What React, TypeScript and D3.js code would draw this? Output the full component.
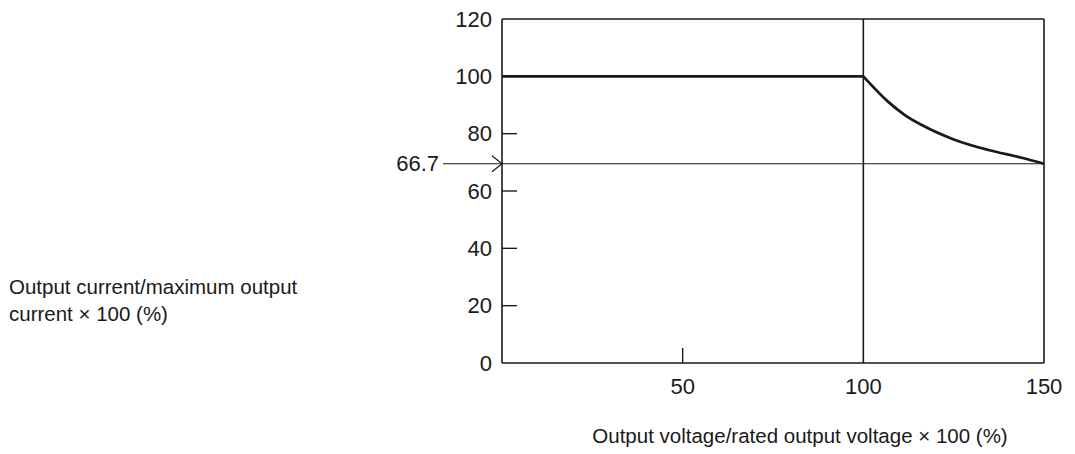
import React from "react";
import * as d3 from "d3";

// Output voltage (% of rated) vs. output current (% of max)
const flatX = [0, 100];
const flatY = [100, 100];
const dropX = [100, 106.9, 111.5, 116.2, 125.4, 134.6, 143.8, 150];
const dropY = [100, 91.1, 86.5, 83.0, 77.8, 74.3, 71.6, 69.5];

const yTicks = [0, 20, 40, 60, 80, 100, 120];
const xTicks = [50, 100, 150];
const refLevel = 69.5; // drawn position of the 66.7 line
const refLabel = "66.7";

const xTitle = "Output voltage/rated output voltage \u00d7 100 (%)";
const yTitle = ["Output current/maximum output", "current \u00d7 100 (%)"];

const W = 1075;
const H = 454;
const FONT = "'Liberation Sans', Arial, Helvetica, sans-serif";
const INK = "#1a1a1a";

const App: React.FC = () => {
  const x = d3.scaleLinear().domain([0, 150]).range([502, 1044]);
  const y = d3.scaleLinear().domain([0, 120]).range([363, 19]);

  const line = d3
    .line<[number, number]>()
    .x((d) => x(d[0]))
    .y((d) => y(d[1]));
  const smooth = line.curve(d3.curveMonotoneX);

  const flatPts: [number, number][] = flatX.map((v, i) => [v, flatY[i]]);
  const dropPts: [number, number][] = dropX.map((v, i) => [v, dropY[i]]);
  const flatPath = d3
    .line<[number, number]>()
    .x((d) => x(d[0]))
    .y((d) => y(d[1]))(flatPts);
  const dropPath = smooth(dropPts);

  const x0 = x(0);
  const x1 = x(150);
  const yTop = y(120);
  const yBot = y(0);
  const yRef = y(refLevel);

  return (
    <svg
      width={W}
      height={H}
      style={{ position: "absolute", left: 0, top: 0, background: "#fff" }}
      fontFamily={FONT}
    >
      {/* frame */}
      <g stroke={INK} strokeWidth={1.6} fill="none">
        <line x1={x0} y1={yTop} x2={x0} y2={yBot} />
        <line x1={x0} y1={yBot} x2={x1} y2={yBot} />
        <line x1={x0} y1={yTop} x2={x1} y2={yTop} />
        <line x1={x1} y1={yTop} x2={x1} y2={yBot} />
        {/* vertical at rated voltage */}
        <line x1={x(100)} y1={yTop} x2={x(100)} y2={yBot} />
      </g>

      {/* inward ticks */}
      <g stroke={INK} strokeWidth={1.4}>
        {yTicks
          .filter((t) => t > 0 && t < 100)
          .map((t) => (
            <line key={t} x1={x0} x2={x0 + 15} y1={y(t)} y2={y(t)} />
          ))}
        <line x1={x(50)} x2={x(50)} y1={yBot} y2={yBot - 15} />
      </g>

      {/* reference line + arrow */}
      <g stroke={INK} strokeWidth={1.2} fill="none">
        <line x1={443} y1={yRef} x2={x1} y2={yRef} />
        <polyline
          points={`${x0 - 10},${yRef - 8} ${x0},${yRef} ${x0 - 10},${yRef + 8}`}
        />
      </g>
      <text
        x={439}
        y={yRef}
        textAnchor="end"
        dominantBaseline="central"
        fontSize={22}
        fill={INK}
      >
        {refLabel}
      </text>

      {/* characteristic curve */}
      <g fill="none" stroke={INK} strokeWidth={2.8} strokeLinejoin="miter">
        <path d={flatPath || ""} />
        <path d={dropPath || ""} />
      </g>

      {/* y tick labels */}
      {yTicks.map((t) => (
        <text
          key={t}
          x={492}
          y={y(t)}
          textAnchor="end"
          dominantBaseline="central"
          fontSize={22}
          fill={INK}
        >
          {t}
        </text>
      ))}

      {/* x tick labels */}
      {xTicks.map((t) => (
        <text
          key={t}
          x={x(t)}
          y={386}
          textAnchor="middle"
          dominantBaseline="central"
          fontSize={22}
          fill={INK}
        >
          {t}
        </text>
      ))}

      <text
        x={800}
        y={435}
        textAnchor="middle"
        dominantBaseline="central"
        fontSize={20.5}
        fill={INK}
      >
        {xTitle}
      </text>

      {yTitle.map((s, i) => (
        <text
          key={i}
          x={9}
          y={286 + i * 27}
          dominantBaseline="central"
          fontSize={20.5}
          fill={INK}
        >
          {s}
        </text>
      ))}
    </svg>
  );
};

export default App;
